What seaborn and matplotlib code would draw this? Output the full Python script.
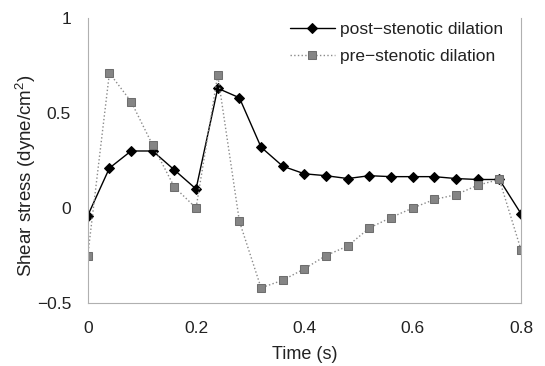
import numpy as np
import pandas as pd
import matplotlib
matplotlib.use("Agg")
import matplotlib.pyplot as plt
import seaborn as sns

time_s = [0.00, 0.04, 0.08, 0.12, 0.16, 0.20, 0.24, 0.28, 0.32, 0.36, 0.40,
          0.44, 0.48, 0.52, 0.56, 0.60, 0.64, 0.68, 0.72, 0.76, 0.80]
post_stenotic = [-0.04, 0.21, 0.30, 0.30, 0.20, 0.10, 0.63, 0.58, 0.32, 0.22, 0.18,
                 0.17, 0.155, 0.17, 0.165, 0.165, 0.165, 0.155, 0.15, 0.15, -0.03]
pre_stenotic = [-0.25, 0.71, 0.56, 0.33, 0.11, 0.00, 0.70, -0.07, -0.42, -0.38, -0.32,
                -0.25, -0.20, -0.105, -0.05, 0.00, 0.045, 0.07, 0.12, 0.15, -0.22]
x_ticks = [0, 0.2, 0.4, 0.6, 0.8]
x_ticklabels = ["0", "0.2", "0.4", "0.6", "0.8"]
y_ticks = [-0.5, 0, 0.5, 1]
y_ticklabels = ["\u22120.5", "0", "0.5", "1"]

sns.set_theme(style="white")
plt.rcParams['font.family'] = ['Liberation Sans', 'DejaVu Sans']
plt.rcParams['mathtext.fontset'] = 'custom'
plt.rcParams['mathtext.rm'] = 'Liberation Sans'

fig = plt.figure(figsize=(5.45, 3.66), dpi=100)
ax = fig.add_axes([0.161, 0.172, 0.795, 0.779])

df_post = pd.DataFrame({"t": time_s, "v": post_stenotic})
df_pre = pd.DataFrame({"t": time_s, "v": pre_stenotic})

sns.lineplot(data=df_post, x="t", y="v", ax=ax, color="black", linewidth=1.0,
             marker="D", markersize=5, markeredgecolor="black", markerfacecolor="black",
             label="post\u2212stenotic dilation")
sns.lineplot(data=df_pre, x="t", y="v", ax=ax, color="#8a8a8a", linewidth=1.0,
             linestyle=":", marker="s", markersize=5.5, markeredgecolor="#6e6e6e",
             markerfacecolor="#858585", label="pre\u2212stenotic dilation")

ax.set_xlim(0, 0.8)
ax.set_ylim(-0.5, 1)
ax.set_xticks(x_ticks)
ax.set_xticklabels(x_ticklabels)
ax.set_yticks(y_ticks)
ax.set_yticklabels(y_ticklabels)
ax.tick_params(axis="both", direction="in", length=4, width=0.8, colors="#555555",
               labelsize=12.5, labelcolor="#222222")
ax.tick_params(axis="x", pad=13)
ax.tick_params(axis="y", pad=12)
for s in ax.spines.values():
    s.set_color("#b0b0b0")
    s.set_linewidth(0.8)
ax.spines["top"].set_visible(False)

ax.set_xlabel("Time (s)", fontsize=13, color="#222222")
ax.set_ylabel("Shear stress (dyne/cm$^2$)", fontsize=13.5, color="#222222")
ax.xaxis.set_label_coords(0.5, -0.152)
ax.yaxis.set_label_coords(-0.115, 0.446)

leg = ax.legend(loc="upper right", bbox_to_anchor=(0.995, 1.04), frameon=False,
                fontsize=12.5, handlelength=2.6, handletextpad=0.3, labelspacing=0.65)
for t in leg.get_texts():
    t.set_color("#222222")

fig.savefig("out.png", dpi=100)
